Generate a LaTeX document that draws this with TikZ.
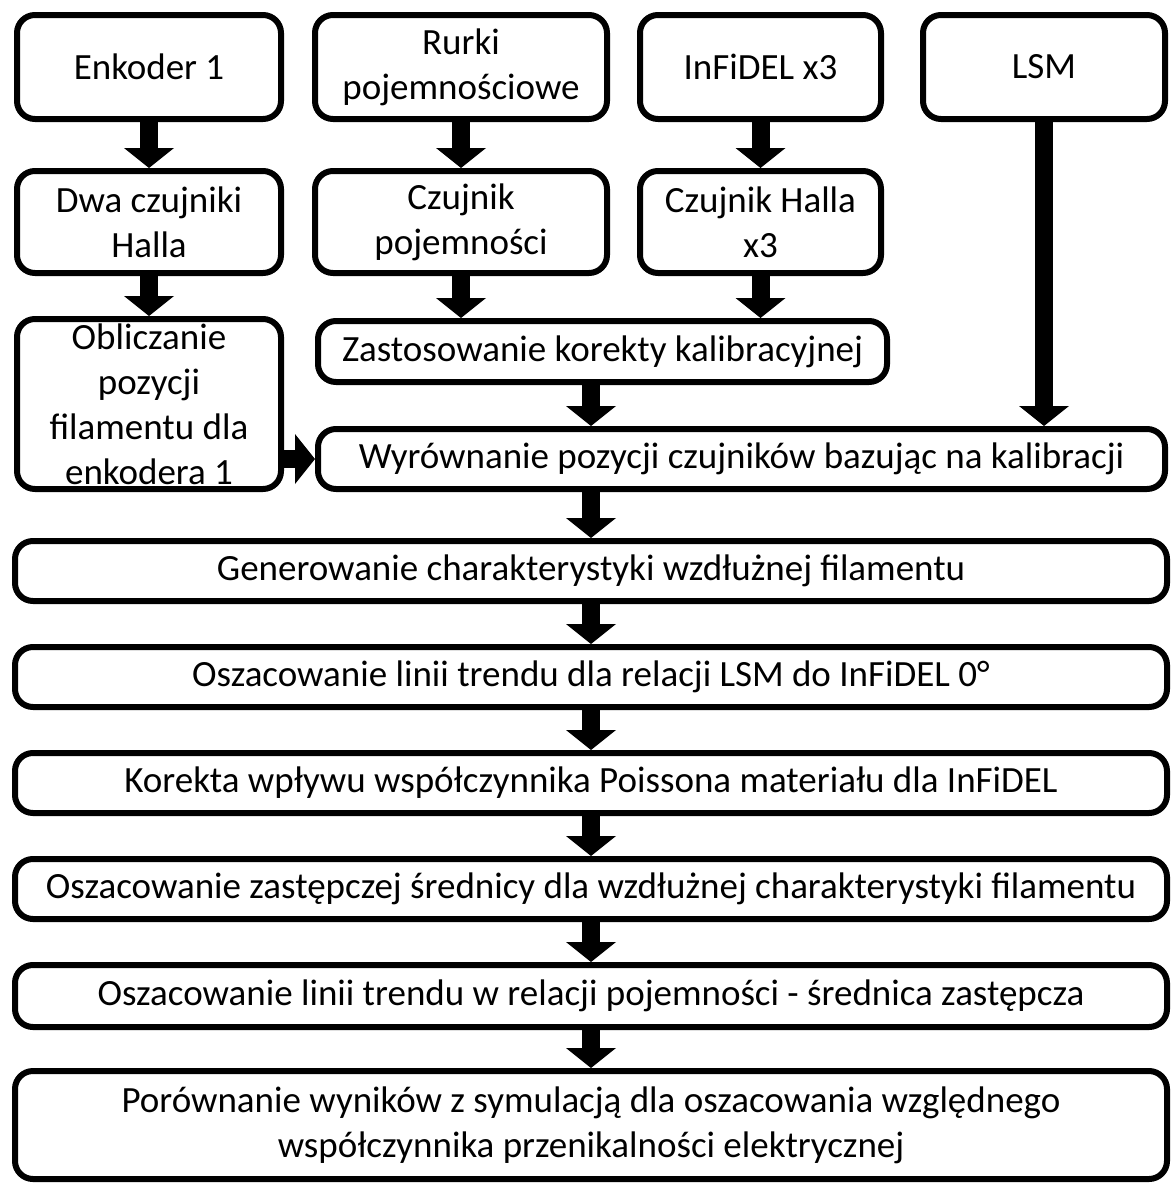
\documentclass[tikz,border=0pt]{standalone}
\usepackage{fontspec}
\setmainfont{Carlito}
\usepackage{tikz}
\usetikzlibrary{arrows.meta, positioning, calc}

\begin{document}
\begin{tikzpicture}[
    x=1pt, y=-1pt,
    box/.style={draw, line width=6pt, rounded corners=18pt, align=center,
                inner sep=0pt, minimum width=#1, minimum height=102pt},
    box/.default=264pt,
    arr/.style={-{Triangle[width=50pt, length=20pt, line width=0pt]},
                line width=18pt},
    every node/.style={font=\fontsize{37}{45}\selectfont},
  ]
  \useasboundingbox (0,0) rectangle (1173,1189);

  % Sources
  \node[box, minimum height=104pt]      (enc) at (149,67)    {Enkoder 1};
  \node[box=292pt, minimum height=104pt] (rur) at (461,67)   {Rurki\\pojemnościowe};
  \node[box=241pt, minimum height=104pt] (inf) at (760.5,67) {InFiDEL x3};
  \node[box=242pt, minimum height=104pt] (lsm) at (1044,67)  {LSM};

  % Sensors
  \node[box]        (hal) at (149,222)   {Dwa czujniki\\Halla};
  \node[box=292pt]  (cap) at (461,222)   {Czujnik\\pojemności};
  \node[box=241pt]  (hx3) at (760.5,222) {Czujnik Halla\\x3};

  % Calibration
  \node[box, minimum height=170pt] (obl) at (149,404)
    {Obliczanie\\pozycji\\filamentu dla\\enkodera 1};
  \node[box=569pt, minimum height=61pt] (kor) at (602.5,351.5)
    {Zastosowanie korekty kalibracyjnej};
  \node[box=847pt, minimum height=60pt] (wyr) at (741.5,459)
    {Wyrównanie pozycji czujników bazując na kalibracji};

  % Processing chain
  \node[box=1152pt, minimum height=60pt] (gen) at (591,571)
    {Generowanie charakterystyki wzdłużnej filamentu};
  \node[box=1152pt, minimum height=60pt] (trd) at (591,677)
    {Oszacowanie linii trendu dla relacji LSM do InFiDEL 0°};
  \node[box=1152pt, minimum height=60pt] (pss) at (591,783)
    {Korekta wpływu współczynnika Poissona materiału dla InFiDEL};
  \node[box=1152pt, minimum height=60pt] (zas) at (591,889)
    {Oszacowanie zastępczej średnicy dla wzdłużnej charakterystyki filamentu};
  \node[box=1152pt, minimum height=62pt] (lin) at (591,996)
    {Oszacowanie linii trendu w relacji pojemności  - średnica zastępcza};
  \node[box=1152pt, minimum height=108pt] (por) at (591,1125)
    {Porównanie wyników z symulacją dla oszacowania względnego\\
     współczynnika przenikalności elektrycznej};

  \draw[arr] (enc) -- (hal);
  \draw[arr] (rur) -- (cap);
  \draw[arr] (inf) -- (hx3);
  \draw[arr] (hal) -- (obl);
  \draw[arr] (cap.south) -- (cap.south |- kor.north);
  \draw[arr] (hx3.south) -- (hx3.south |- kor.north);
  \draw[arr] (kor.south -| gen.north) -- (wyr.north -| gen.north);
  \draw[arr] (lsm) -- (lsm |- wyr.north);
  \draw[arr] (obl.east |- wyr.west) -- (wyr.west);
  \draw[arr] (wyr.south -| gen.north) -- (gen);
  \foreach \a/\b in {gen/trd, trd/pss, pss/zas, zas/lin, lin/por}
    \draw[arr] (\a) -- (\b);
\end{tikzpicture}
\end{document}
